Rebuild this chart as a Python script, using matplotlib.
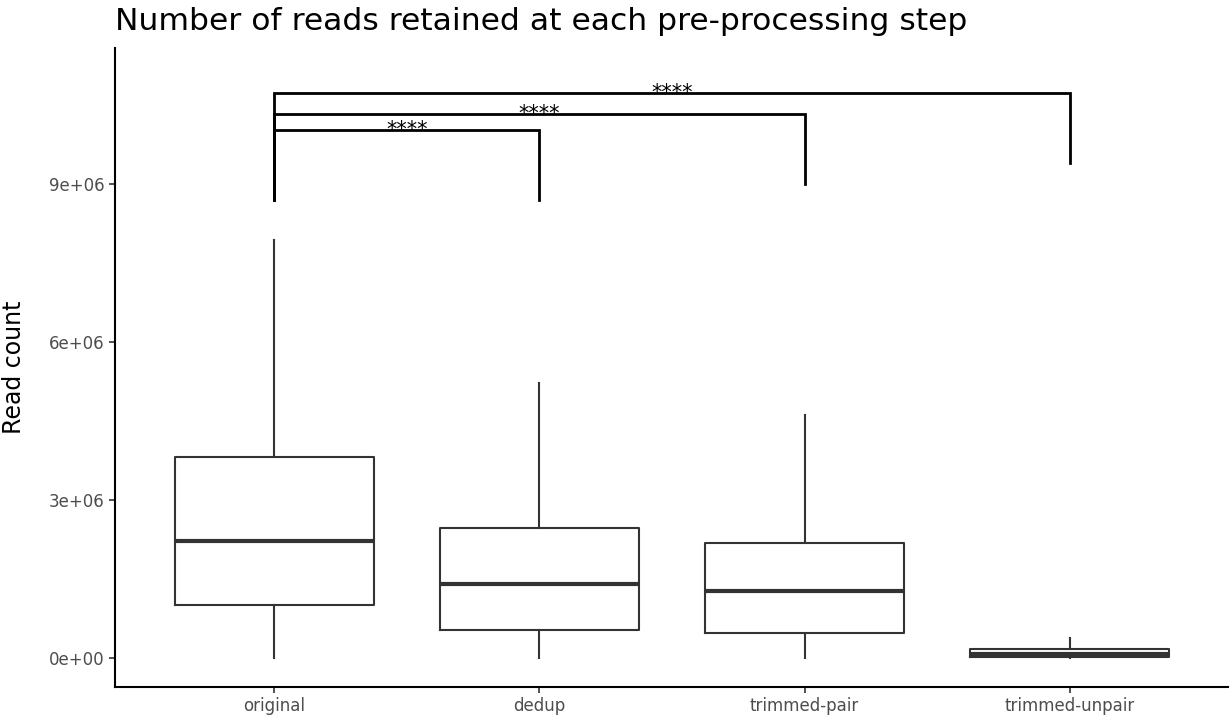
import matplotlib.pyplot as plt

# box summary per pre-processing step (read counts)
steps = ['original', 'dedup', 'trimmed-pair', 'trimmed-unpair']
whisker_low = [0, 0, 0, 0]
q1 = [1.00e6, 0.53e6, 0.47e6, 0.02e6]
medians = [2.22e6, 1.40e6, 1.27e6, 0.08e6]
q3 = [3.82e6, 2.47e6, 2.18e6, 0.17e6]
whisker_high = [7.94e6, 5.22e6, 4.61e6, 0.38e6]

# pairwise comparisons against "original"
comp_pairs = [(0, 1), (0, 2), (0, 3)]
comp_labels = ['****', '****', '****']
bracket_top = [10.02e6, 10.33e6, 10.73e6]
bracket_left_tip = [8.7e6, 8.7e6, 8.7e6]
bracket_right_tip = [8.7e6, 9.0e6, 9.4e6]

yticks = [0, 3e6, 6e6, 9e6]
ytick_labels = ['0e+00', '3e+06', '6e+06', '9e+06']


def main():
    fig = plt.figure(figsize=(12.29, 7.23), dpi=100)
    ax = fig.add_axes([115 / 1229, 36 / 723, 1 - 115 / 1229, (687 - 48) / 723])

    stats = []
    for i in range(len(steps)):
        stats.append({'whislo': whisker_low[i], 'q1': q1[i], 'med': medians[i],
                      'q3': q3[i], 'whishi': whisker_high[i], 'fliers': [],
                      'label': steps[i]})

    pos = list(range(1, len(steps) + 1))
    line = dict(color='#333333', linewidth=1.5)
    ax.bxp(stats, positions=pos, widths=0.75, showcaps=False,
           boxprops=line, whiskerprops=line,
           medianprops=dict(color='#333333', linewidth=3))

    # significance brackets, stars sit just on top of the bar
    for k, (a, b) in enumerate(comp_pairs):
        xa, xb = pos[a], pos[b]
        ax.plot([xa, xa, xb, xb],
                [bracket_left_tip[k], bracket_top[k], bracket_top[k], bracket_right_tip[k]],
                color='black', linewidth=2, solid_joinstyle='miter')
        ax.annotate(comp_labels[k], xy=((xa + xb) / 2, bracket_top[k]),
                    xytext=(0, -4.5), textcoords='offset points',
                    ha='center', va='baseline', fontsize=15, color='black')

    ax.set_xlim(0.4, 4.6)
    ax.set_ylim(-0.55e6, 11.58e6)
    ax.set_xticks(pos)
    ax.set_xticklabels(steps)
    ax.set_yticks(yticks)
    ax.set_yticklabels(ytick_labels)
    ax.tick_params(colors='#333333', labelcolor='#4D4D4D', labelsize=12, length=4, width=1.2)
    ax.spines['top'].set_visible(False)
    ax.spines['right'].set_visible(False)
    ax.spines['left'].set_linewidth(1.5)
    ax.spines['bottom'].set_linewidth(1.5)
    ax.set_ylabel('Read count', fontsize=17, va='center')
    ax.yaxis.set_label_coords(-101 / 1114, 0.5)
    fig.text(115 / 1229, 1 - 22 / 723, 'Number of reads retained at each pre-processing step',
             fontsize=22.6, ha='left', va='center')

    fig.savefig('out.png', dpi=100)


if __name__ == '__main__':
    main()
